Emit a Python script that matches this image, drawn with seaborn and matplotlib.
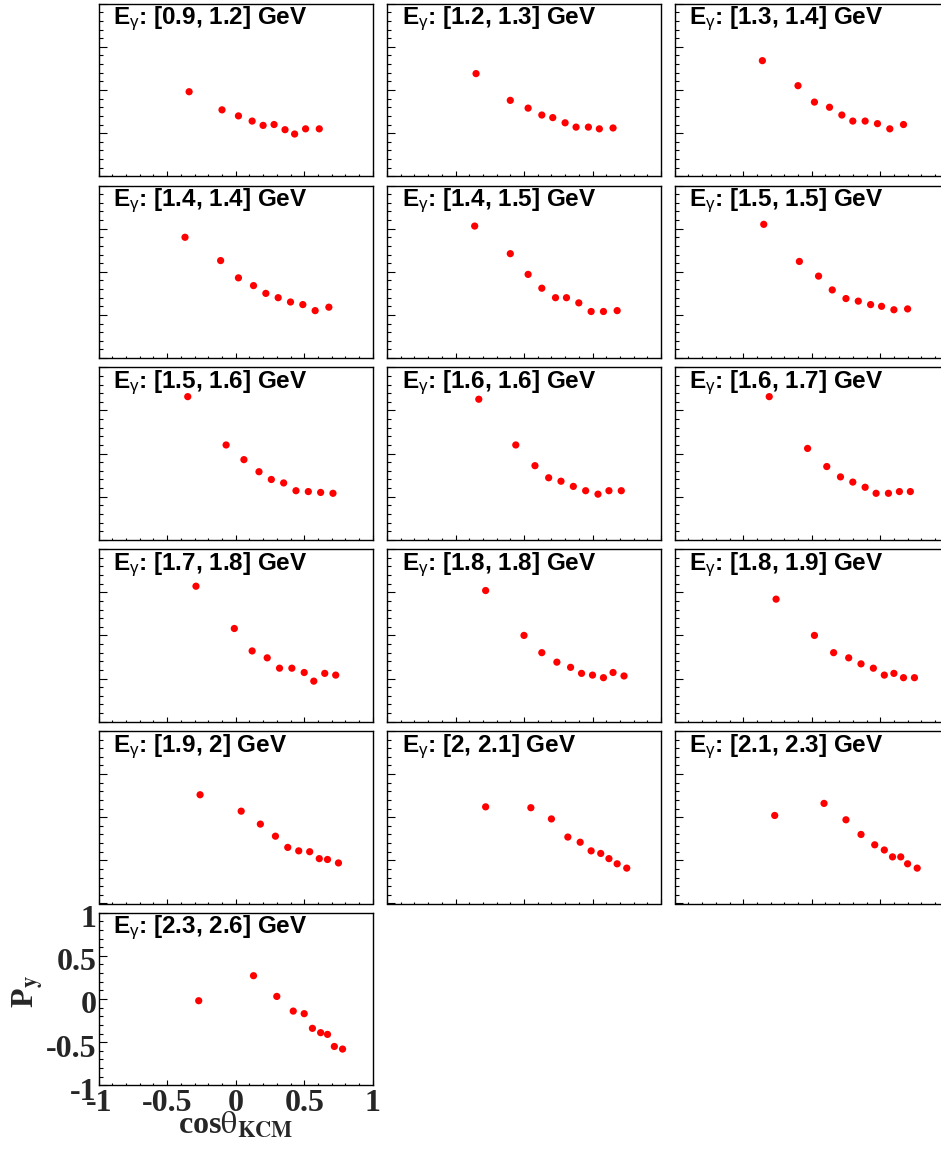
import matplotlib
matplotlib.use("Agg")
import matplotlib.pyplot as plt
import seaborn as sns
import pandas as pd
from matplotlib.ticker import MultipleLocator, FuncFormatter
from matplotlib.transforms import ScaledTranslation

# ---------------- data ----------------
energy_bins = ["[0.9, 1.2]", "[1.2, 1.3]", "[1.3, 1.4]",
               "[1.4, 1.4]", "[1.4, 1.5]", "[1.5, 1.5]",
               "[1.5, 1.6]", "[1.6, 1.6]", "[1.6, 1.7]",
               "[1.7, 1.8]", "[1.8, 1.8]", "[1.8, 1.9]",
               "[1.9, 2]", "[2, 2.1]", "[2.1, 2.3]",
               "[2.3, 2.6]"]

cos_01 = [-0.34, -0.10, 0.02, 0.12, 0.20, 0.28, 0.36, 0.43, 0.51, 0.61]
py_01 = [-0.02, -0.23, -0.30, -0.36, -0.41, -0.40, -0.46, -0.51, -0.45, -0.45]
cos_02 = [-0.35, -0.10, 0.03, 0.13, 0.21, 0.30, 0.38, 0.47, 0.55, 0.65]
py_02 = [0.19, -0.12, -0.21, -0.29, -0.32, -0.38, -0.43, -0.43, -0.45, -0.44]
cos_03 = [-0.36, -0.10, 0.02, 0.13, 0.22, 0.30, 0.39, 0.48, 0.57, 0.67]
py_03 = [0.34, 0.05, -0.14, -0.20, -0.29, -0.36, -0.36, -0.39, -0.45, -0.40]
cos_04 = [-0.37, -0.11, 0.02, 0.13, 0.22, 0.31, 0.40, 0.49, 0.58, 0.68]
py_04 = [0.40, 0.13, -0.07, -0.16, -0.25, -0.30, -0.35, -0.38, -0.45, -0.41]
cos_05 = [-0.36, -0.10, 0.03, 0.13, 0.23, 0.31, 0.40, 0.49, 0.58, 0.68]
py_05 = [0.53, 0.21, -0.03, -0.19, -0.30, -0.30, -0.36, -0.46, -0.46, -0.45]
cos_06 = [-0.35, -0.09, 0.05, 0.15, 0.25, 0.34, 0.43, 0.51, 0.60, 0.70]
py_06 = [0.55, 0.12, -0.05, -0.21, -0.31, -0.34, -0.38, -0.40, -0.44, -0.43]
cos_07 = [-0.35, -0.07, 0.06, 0.17, 0.26, 0.35, 0.44, 0.53, 0.62, 0.71]
py_07 = [0.66, 0.10, -0.07, -0.21, -0.30, -0.34, -0.43, -0.44, -0.45, -0.46]
cos_08 = [-0.33, -0.06, 0.08, 0.18, 0.27, 0.36, 0.45, 0.54, 0.62, 0.71]
py_08 = [0.63, 0.10, -0.14, -0.28, -0.32, -0.38, -0.43, -0.47, -0.43, -0.43]
cos_09 = [-0.31, -0.03, 0.11, 0.21, 0.30, 0.39, 0.47, 0.56, 0.64, 0.72]
py_09 = [0.66, 0.06, -0.15, -0.27, -0.33, -0.39, -0.46, -0.46, -0.44, -0.44]
cos_10 = [-0.29, -0.01, 0.12, 0.23, 0.32, 0.41, 0.50, 0.57, 0.65, 0.73]
py_10 = [0.57, 0.08, -0.18, -0.26, -0.38, -0.38, -0.43, -0.53, -0.44, -0.46]
cos_11 = [-0.28, 0.00, 0.13, 0.24, 0.34, 0.42, 0.50, 0.58, 0.65, 0.73]
py_11 = [0.52, 0.00, -0.20, -0.31, -0.37, -0.44, -0.46, -0.49, -0.43, -0.47]
cos_12 = [-0.26, 0.02, 0.16, 0.27, 0.36, 0.45, 0.53, 0.60, 0.67, 0.75]
py_12 = [0.42, 0.00, -0.20, -0.26, -0.33, -0.38, -0.46, -0.44, -0.49, -0.49]
cos_13 = [-0.26, 0.04, 0.18, 0.29, 0.38, 0.46, 0.54, 0.61, 0.67, 0.75]
py_13 = [0.26, 0.07, -0.08, -0.22, -0.35, -0.39, -0.40, -0.48, -0.49, -0.53]
cos_14 = [-0.28, 0.05, 0.20, 0.32, 0.41, 0.49, 0.56, 0.62, 0.68, 0.75]
py_14 = [0.12, 0.11, -0.02, -0.23, -0.29, -0.39, -0.42, -0.48, -0.54, -0.59]
cos_15 = [-0.27, 0.09, 0.25, 0.36, 0.46, 0.53, 0.59, 0.65, 0.70, 0.77]
py_15 = [0.02, 0.16, -0.03, -0.20, -0.32, -0.38, -0.46, -0.46, -0.54, -0.59]
cos_16 = [-0.27, 0.13, 0.30, 0.42, 0.50, 0.56, 0.62, 0.67, 0.72, 0.78]
py_16 = [-0.02, 0.27, 0.03, -0.14, -0.17, -0.34, -0.39, -0.41, -0.55, -0.58]

cos_all = [cos_01, cos_02, cos_03, cos_04, cos_05, cos_06, cos_07, cos_08,
           cos_09, cos_10, cos_11, cos_12, cos_13, cos_14, cos_15, cos_16]
py_all = [py_01, py_02, py_03, py_04, py_05, py_06, py_07, py_08,
          py_09, py_10, py_11, py_12, py_13, py_14, py_15, py_16]

# ---------------- style ----------------
sns.set_theme(style="white")
plt.rcParams["font.family"] = ["Liberation Sans", "DejaVu Sans"]
plt.rcParams["axes.unicode_minus"] = False
plt.rcParams["mathtext.fontset"] = "custom"
plt.rcParams["mathtext.rm"] = "Liberation Sans"
plt.rcParams["mathtext.it"] = "Liberation Sans"
plt.rcParams["mathtext.bf"] = "Liberation Sans:bold"
plt.rcParams["axes.edgecolor"] = "black"
plt.rcParams["axes.linewidth"] = 1.0

W, H = 941.0, 1150.0
fig = plt.figure(figsize=(W / 100, H / 100), dpi=100)
fig.patch.set_facecolor("white")

col_x0 = [235.7, 524.0, 811.7]   # pixel x of cos=0 in each column
half_w = 137.0
half_h = 86.3
row_y0 = [90.0 + 181.8 * i for i in range(6)]  # pixel y of Py=0 in each row

serif = ["Liberation Serif", "DejaVu Serif"]

for i in range(16):
    r, c = divmod(i, 3)
    left = (col_x0[c] - half_w) / W
    bottom = 1 - (row_y0[r] + half_h) / H
    ax = fig.add_axes([left, bottom, 2 * half_w / W, 2 * half_h / H])
    df = pd.DataFrame({"cos": cos_all[i], "py": py_all[i]})
    sns.scatterplot(data=df, x="cos", y="py", ax=ax, color="#ff0000",
                    s=27, edgecolor="none", linewidth=0, legend=False,
                    zorder=3)
    ax.set_xlim(-1, 1)
    ax.set_ylim(-1, 1)
    ax.set_xlabel("")
    ax.set_ylabel("")
    for sp in ax.spines.values():
        sp.set_color("black")
        sp.set_linewidth(1.0)
    ax.xaxis.set_major_locator(MultipleLocator(0.5))
    ax.xaxis.set_minor_locator(MultipleLocator(0.1))
    ax.yaxis.set_major_locator(MultipleLocator(0.5))
    ax.yaxis.set_minor_locator(MultipleLocator(0.1))
    ax.tick_params(axis="both", which="both", direction="in", top=False,
                   right=False, left=True, bottom=True, color="black",
                   width=0.8)
    ax.tick_params(axis="y", which="major", length=5.8)
    ax.tick_params(axis="y", which="minor", length=2.9)
    ax.tick_params(axis="x", which="major", length=3.6)
    ax.tick_params(axis="x", which="minor", length=1.8)
    ax.text(0.054, 0.992, r"E$_{\gamma}$: " + energy_bins[i] + " GeV",
            transform=ax.transAxes, ha="left", va="top", fontsize=17.5,
            fontweight="bold", color="black", zorder=5)
    if i == 15:
        fmt = FuncFormatter(lambda v, p: "%g" % round(v, 2))
        ax.xaxis.set_major_formatter(fmt)
        ax.yaxis.set_major_formatter(fmt)
        ax.tick_params(axis="x", which="major", labelbottom=True, pad=3,
                       labelsize=23)
        ax.tick_params(axis="y", which="major", labelleft=True, pad=1.5,
                       labelsize=23)
        shift = ScaledTranslation(0, -0.035, fig.dpi_scale_trans)
        for lab in ax.get_xticklabels() + ax.get_yticklabels():
            lab.set_family(serif)
            lab.set_fontweight("bold")
        for lab in ax.get_yticklabels():
            lab.set_transform(lab.get_transform() + shift)
        ax.text(0.5, -0.274, r"cos$\mathrm{\theta}_{\mathbf{KCM}}$",
                transform=ax.transAxes, ha="center", va="baseline",
                fontsize=23, fontweight="bold", family=serif,
                math_fontfamily="stix")
        ax.text(-0.255, 0.543, r"P$_{\mathbf{y}}$", transform=ax.transAxes,
                ha="center", va="center", rotation=90, fontsize=23,
                fontweight="bold", family=serif, math_fontfamily="stix")
    else:
        ax.tick_params(labelbottom=False, labelleft=False)

fig.savefig("out.png", dpi=100, facecolor="white")
